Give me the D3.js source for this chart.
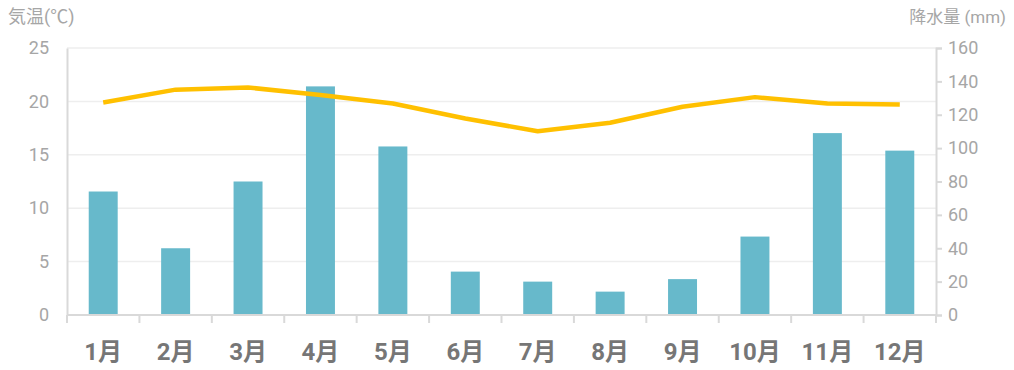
<!DOCTYPE html>
<html>
<head>
<meta charset="utf-8">
<script src="https://d3js.org/d3.v7.min.js"></script>
<style>
  body { margin: 0; background: #fff; }
  text { font-family: Roboto, "Noto Sans CJK JP", sans-serif; }
</style>
</head>
<body>
<div id="chart"></div>
<script>
// monthly data
var months = ["1月", "2月", "3月", "4月", "5月", "6月", "7月", "8月", "9月", "10月", "11月", "12月"];
var rain = [74, 40, 80, 137, 101, 26, 20, 14, 21.5, 47, 109, 98.5];
var temp = [19.9, 21.1, 21.3, 20.6, 19.8, 18.4, 17.2, 18.0, 19.5, 20.4, 19.8, 19.7];
var tempTicks = [0, 5, 10, 15, 20, 25];
var rainTicks = [0, 20, 40, 60, 80, 100, 120, 140, 160];

var W = 1014, H = 370;
var margin = { top: 48, right: 78, bottom: 55, left: 67 };
var width = W - margin.left - margin.right,
    height = H - margin.top - margin.bottom;

var svg = d3.select("#chart").append("svg")
    .attr("width", W).attr("height", H);

var g = svg.append("g")
    .attr("transform", "translate(" + margin.left + "," + margin.top + ")");

var xb = d3.scaleBand().domain(months).range([0, width]);
var yT = d3.scaleLinear().domain([0, 25]).range([height, 0]);
var yR = d3.scaleLinear().domain([0, 160]).range([height, 0]);

// grid lines
g.append("g").selectAll("line")
    .data(tempTicks.slice(1))
    .join("line")
    .attr("x1", 0).attr("x2", width)
    .attr("y1", function (d) { return yT(d); })
    .attr("y2", function (d) { return yT(d); })
    .attr("stroke", "#eeeeee").attr("stroke-width", 1.5);

// bars (rain)
g.append("g").selectAll("rect")
    .data(rain)
    .join("rect")
    .attr("x", function (d, i) { return xb(months[i]) + xb.bandwidth() * 0.3; })
    .attr("width", xb.bandwidth() * 0.4)
    .attr("y", function (d) { return yR(d); })
    .attr("height", function (d) { return height - yR(d); })
    .attr("fill", "#67b9cb");

// temperature line
var line = d3.line()
    .x(function (d, i) { return xb(months[i]) + xb.bandwidth() / 2; })
    .y(function (d) { return yT(d); });
g.append("path")
    .datum(temp)
    .attr("d", line)
    .attr("fill", "none")
    .attr("stroke", "#ffc000")
    .attr("stroke-width", 4.5)
    .attr("stroke-linejoin", "round");

// left axis
var left = g.append("g")
    .call(d3.axisLeft(yT).tickValues(tempTicks).tickSize(0).tickPadding(18));
left.select(".domain").attr("stroke", "#d9d9d9").attr("stroke-width", 2);
left.selectAll("text").attr("fill", "#a6a6a6").style("font-size", "18px");

// right axis
var right = g.append("g")
    .attr("transform", "translate(" + width + ",0)")
    .call(d3.axisRight(yR).tickValues(rainTicks).tickSize(6).tickPadding(6));
right.select(".domain").attr("stroke", "#d9d9d9").attr("stroke-width", 2);
right.selectAll("line").attr("stroke", "#d9d9d9").attr("stroke-width", 2);
right.selectAll("text").attr("fill", "#a6a6a6").style("font-size", "18px");

// bottom axis
var bottom = g.append("g")
    .attr("transform", "translate(0," + height + ")");
bottom.append("line")
    .attr("x1", 0).attr("x2", width)
    .attr("stroke", "#d9d9d9").attr("stroke-width", 2);
bottom.selectAll("line.tk")
    .data(months.concat(["end"]))
    .join("line")
    .attr("class", "tk")
    .attr("x1", function (d, i) { return i * xb.bandwidth(); })
    .attr("x2", function (d, i) { return i * xb.bandwidth(); })
    .attr("y1", 0).attr("y2", 8)
    .attr("stroke", "#d9d9d9").attr("stroke-width", 2);
bottom.selectAll("text")
    .data(months)
    .join("text")
    .attr("x", function (d) { return xb(d) + xb.bandwidth() / 2; })
    .attr("y", 45)
    .attr("text-anchor", "middle")
    .attr("fill", "#767676")
    .style("font-size", "24px")
    .style("font-weight", "bold")
    .text(function (d) { return d; });

// axis titles
svg.append("text")
    .attr("x", 8).attr("y", 23)
    .attr("fill", "#a6a6a6")
    .style("font-size", "18px")
    .text("気温(℃)");
svg.append("text")
    .attr("x", 1006).attr("y", 23)
    .attr("text-anchor", "end")
    .attr("fill", "#a6a6a6")
    .style("font-size", "17px")
    .text("降水量 (mm)");
</script>
</body>
</html>
